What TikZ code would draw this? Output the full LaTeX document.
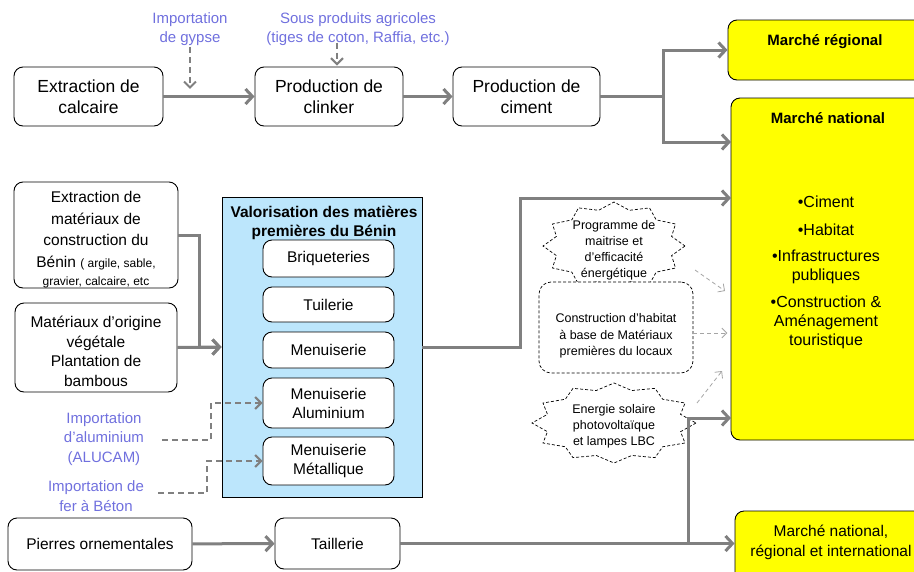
\documentclass[tikz,border=0pt]{standalone}
\usepackage{fontspec}
\setmainfont{Liberation Sans}
\usetikzlibrary{arrows.meta,calc}

\definecolor{flow}{RGB}{128,128,128}
\definecolor{hint}{RGB}{165,165,165}
\definecolor{imp}{RGB}{112,112,222}
\definecolor{sky}{RGB}{188,230,252}
\definecolor{mkt}{RGB}{255,255,0}

\newcommand\fs[2]{\fontsize{#1}{#2}\selectfont}

\tikzset{
  x=1pt, y=-1pt,
  box/.style={draw=black, line width=0.9pt, rounded corners=9pt, fill=white,
              align=center, inner sep=0pt},
  market/.style={box, fill=mkt},
  txt/.style={align=center, inner sep=0pt},
  imptxt/.style={txt, text=imp, font=\fs{15}{19.5}},
  flowline/.style={draw=flow, line width=3pt,
                   -{Straight Barb[length=7pt,width=15pt]}},
  impline/.style={draw=flow, line width=2pt, dash pattern=on 6pt off 4pt,
                  -{Straight Barb[length=6pt,width=12pt]}},
  hintline/.style={draw=hint, line width=0.8pt, dash pattern=on 4pt off 3pt,
                   -{Straight Barb[length=5pt,width=10pt]}},
  burstline/.style={draw=black, line width=0.7pt, dash pattern=on 3pt off 2pt, fill=white},
}

% dashed twelve-point burst around a centre (cx, cy) with radii (rx, ry)
\newcommand\burst[4]{%
  \draw[burstline] plot[samples at={0,15,...,345}]
    ({#1+#3*(1-0.16*mod(\x/15,2))*cos(\x)},{#2+#4*(1-0.16*mod(\x/15,2))*sin(\x)}) -- cycle;}

\begin{document}
\begin{tikzpicture}
\useasboundingbox (0,0) rectangle (914,571);
\clip (0,0) rectangle (914,571);

% ---------- cement chain ----------
\node[box, minimum width=149, minimum height=59, font=\fs{17.5}{21}]
  (calc) at (88.5,96.5) {Extraction de\\calcaire};
\node[box, minimum width=148, minimum height=59, font=\fs{17.5}{21}]
  (clinker) at (329,96.5) {Production de\\clinker};
\node[box, minimum width=147, minimum height=59, font=\fs{17.5}{21}]
  (ciment) at (526.5,96.5) {Production de\\ciment};

\node[imptxt] (gypse) at (190,29) {Importation\\de gypse};
\node[imptxt] (sousprod) at (358,29) {Sous produits agricoles\\(tiges de coton, Raffia, etc.)};

% ---------- markets ----------
\node[market, minimum width=196, minimum height=60] (mreg) at (826,50) {};
\node[txt, font=\bfseries\fs{15}{18}] (mregt) at (825,42) {Marché régional};

\node[market, minimum width=193, minimum height=342] (mnat) at (827.5,269) {};
\node[txt, font=\bfseries\fs{15}{18}] (mnatt) at (828,118) {Marché national};
\node[txt, font=\fs{16}{19}, anchor=north] (mnatl) at (826,196)
  {\textbullet Ciment\\[8.5pt]\textbullet Habitat\\[7pt]\textbullet Infrastructures\\publiques\\[8.5pt]%
   \textbullet Construction \&\\Aménagement\\touristique};

\node[market, minimum width=190, minimum height=70] (mint) at (830,546) {};
\node[txt, font=\fs{15.5}{20}] (mintt) at (831,542) {Marché national,\\régional et international};

\coordinate (n1) at (731,142);
\coordinate (n2) at (731,198);
\coordinate (n3) at (731,418);

% ---------- local materials ----------
\node[box, minimum width=164, minimum height=106] (extmat) at (96,235) {};
\node[txt, font=\fs{15.5}{21.5}] (extmatt) at (96,240)
  {Extraction de\\matériaux de\\construction du\\Bénin {\fs{12}{14}( argile, sable,}\\[-3pt]%
   {\fs{12}{14}gravier, calcaire, etc}};
\node[box, minimum width=162, minimum height=89] (veg) at (96,347.5) {};
\node[txt, font=\fs{15.5}{19.5}] (vegt) at (96,351.5)
  {Matériaux d’origine\\végétale\\Plantation de\\bambous};

\node[draw=black, line width=0.9pt, fill=sky, minimum width=200, minimum height=300,
      inner sep=0pt] (valo) at (322,347) {};
\node[txt, font=\bfseries\fs{15.5}{19}] (valot) at (324,222.5)
  {Valorisation des matières\\premières du Bénin};
\node[box, minimum width=131, minimum height=37, font=\fs{15.5}{19}] (briq) at (328.5,258.5) {Briqueteries};
\node[box, minimum width=131, minimum height=35, font=\fs{15.5}{19}] (tuil) at (328.5,304.5) {Tuilerie};
\node[box, minimum width=131, minimum height=36, font=\fs{15.5}{19}] (menu) at (328.5,350) {Menuiserie};
\node[box, minimum width=131, minimum height=50, font=\fs{15.5}{19}] (alu) at (328.5,403) {Menuiserie\\Aluminium};
\node[box, minimum width=131, minimum height=48, font=\fs{15.5}{19}] (met) at (328.5,461) {Menuiserie\\Métallique};

\node[imptxt] (alut) at (104,439) {Importation\\d’aluminium\\(ALUCAM)};
\node[imptxt] (fert) at (96,496) {Importation de\\fer à Béton};

\node[box, minimum width=184, minimum height=52, font=\fs{15.5}{19}] (pierres) at (100,544) {Pierres ornementales};
\node[box, minimum width=125, minimum height=51, font=\fs{15.5}{19}] (taill) at (337.5,543.5) {Taillerie};

% ---------- programmes ----------
\burst{614}{246}{71}{44}
\node[txt, font=\fs{12.5}{16}] (prog) at (614,250) {Programme de\\maitrise et\\d’efficacité\\énergétique};
\node[box, line width=0.7pt, dash pattern=on 3pt off 2pt, rounded corners=12pt,
      minimum width=154, minimum height=91] (constr) at (616,327.5) {};
\node[txt, font=\fs{12.5}{16.5}] (constrt) at (616,336)
  {Construction d’habitat\\à base de Matériaux\\premières du locaux};
\burst{614}{423}{82}{40}
\node[txt, font=\fs{12.5}{16}] (ener) at (614,426) {Energie solaire\\photovoltaïque\\et lampes LBC};

% ---------- connectors ----------
\draw[flowline] (calc) -- (clinker);
\draw[flowline] (clinker) -- (ciment);
\draw[flowline] (ciment.east) -- ++(63,0) |- (mreg.west);
\draw[flowline] (ciment.east) -- ++(63,0) |- (n1);

\draw[impline] ([yshift=-1pt]gypse.south) -- ++(0,42);
\draw[impline] (clinker.north) ++(8,-24) -- ++(0,23);

\draw[flowline] (extmat.east) -| ($(valo.west)+(-22,0)$) -- (valo.west);
\draw[flowline] (veg.east) -- (valo.west);
\draw[flowline] (valo.east) -- ++(98,0) |- (n2);

\draw[impline] ([xshift=18pt,yshift=-1pt]alut.east) -- ++(49,0) |- (alu.west);
\draw[impline] ([xshift=14pt,yshift=3pt]fert.east) -- ++(49,0) |- (met.west);

\draw[flowline] (pierres) -- (taill);
\draw[flowline] (taill.east) -- (taill.east -| mint.west);
\draw[flowline] (taill.east) -- ++(288,0) |- (n3);

\draw[hintline] ($(prog)+(81,20)$) -- ($(prog)+(111,41)$);
\draw[hintline] ([yshift=-5.5pt]constr.east) -- ++(34,0);
\draw[hintline] ($(ener)+(83,-23)$) -- ($(ener)+(108,-55)$);
\end{tikzpicture}
\end{document}
